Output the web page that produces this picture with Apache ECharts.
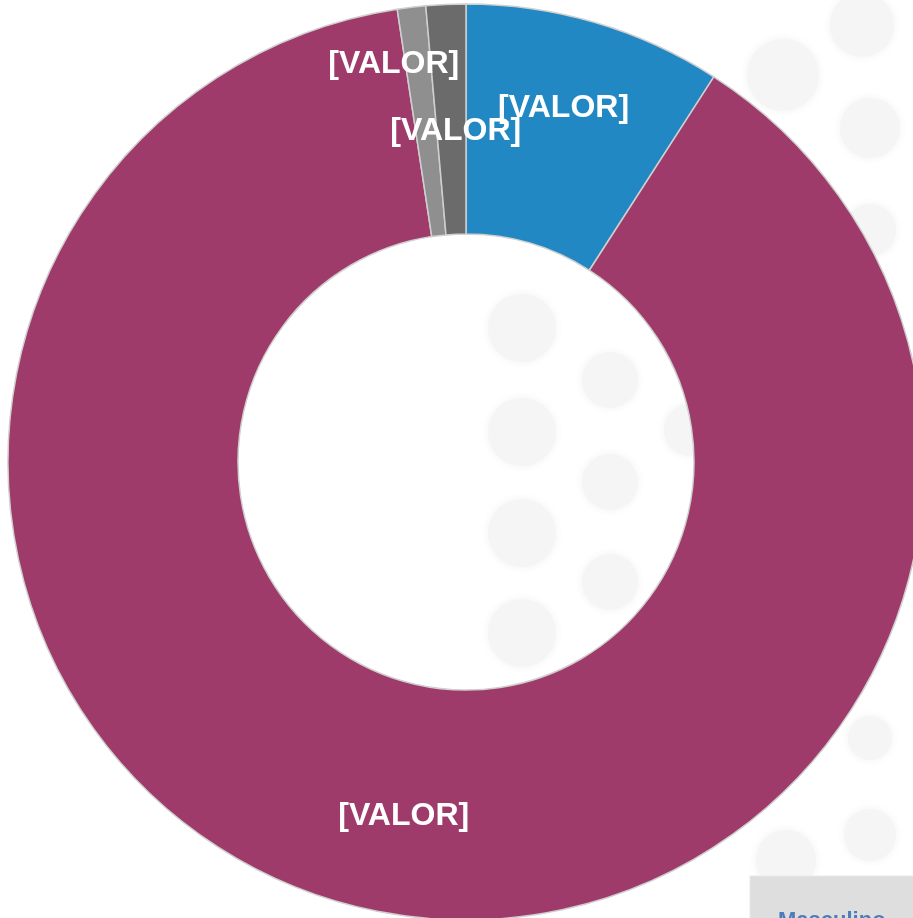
<!DOCTYPE html>
<html>
<head>
<meta charset="utf-8">
<script src="https://cdn.jsdelivr.net/npm/echarts@6/dist/echarts.min.js"></script>
<style>html,body{margin:0;padding:0;background:#fff;}#c{width:913px;height:918px;}</style>
</head>
<body>
<div id="c"></div>
<script>
const categories = ['Masculino', 'Feminino', 'Outro', 'Não informado'];
const values = [9.1, 88.5, 1.0, 1.4];
const labels = ['[VALOR]', '[VALOR]', '[VALOR]', '[VALOR]'];
const colors = ['#2288c3', '#9e3b6a', '#8f8f8f', '#6b6b6b'];
const labelOffsets = [[0, -22], [10, 16], [-31, -54], [5, 15]];

const bgCircles = [[862,25,32],[783,75,36],[870,128,30],[522,328,34],[610,380,28],[522,432,34],[610,482,28],[522,533,34],[610,582,28],[522,633,34],[690,430,26],[870,230,26],[870,738,22],[870,835,26],[786,860,30]];

const chart = echarts.init(document.getElementById('c'), null, {renderer: 'canvas'});
chart.setOption({
  backgroundColor: '#ffffff',
  animation: false,
  graphic: [
    ...bgCircles.map(c => ({type: 'circle', z: -10, silent: true, shape: {cx: c[0], cy: c[1], r: c[2]}, style: {fill: '#f5f5f5', shadowBlur: 10, shadowColor: '#f2f2f2'}})),
    {type: 'rect', z: 10, shape: {x: 750, y: 876, width: 170, height: 50}, style: {fill: '#dedede', stroke: '#e8e8e8'}},
    {type: 'text', z: 11, x: 778, y: 910, style: {text: categories[0], fill: '#4a7ebb', font: 'bold 22px "Liberation Sans", Arial, sans-serif'}}
  ],
  series: [{
    type: 'pie',
    center: [466, 462],
    radius: [228, 458],
    startAngle: 90,
    clockwise: true,
    avoidLabelOverlap: false,
    minShowLabelAngle: 0,
    labelLayout: {hideOverlap: false},
    itemStyle: {borderColor: '#cfcfcf', borderWidth: 1.5},
    label: {
      show: true,
      position: 'inside',
      color: '#ffffff',
      fontFamily: '"Liberation Sans", Arial, sans-serif',
      fontWeight: 'bold',
      fontSize: 32,
      overflow: 'none',
      formatter: p => labels[p.dataIndex]
    },
    labelLine: {show: false},
    emphasis: {disabled: true},
    data: categories.map((n, i) => ({
      name: n,
      value: values[i],
      itemStyle: {color: colors[i]},
      label: {offset: labelOffsets[i]}
    }))
  }]
});
</script>
</body>
</html>
